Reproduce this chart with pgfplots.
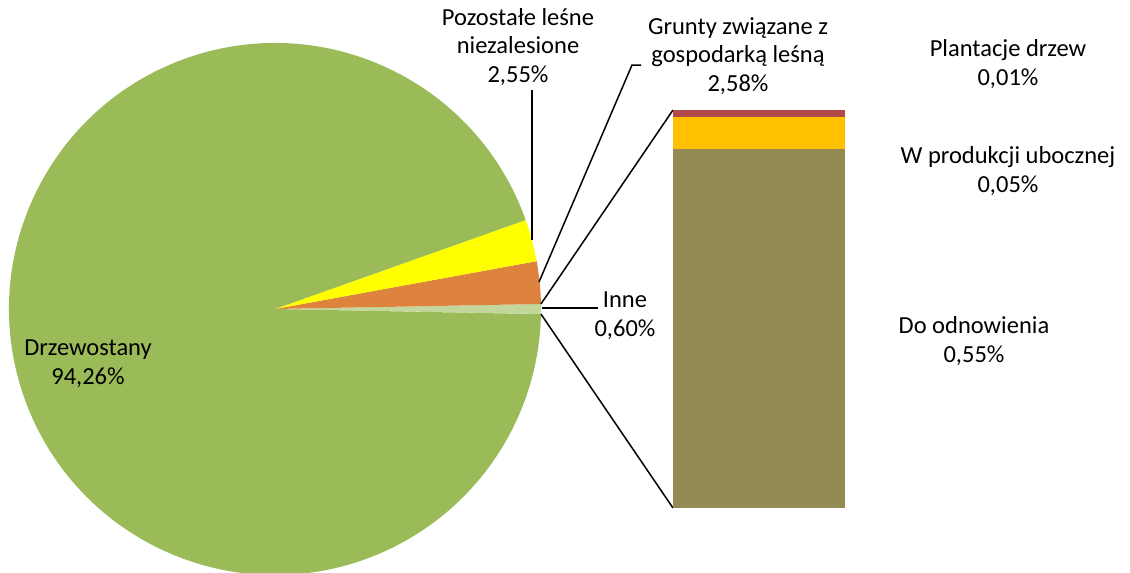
\documentclass[border=0pt]{standalone}
\usepackage{fontspec}
\setmainfont{Carlito}
\usepackage{pgfplots}
\pgfplotsset{compat=1.18}

\definecolor{cDrz}{HTML}{9BBB59}
\definecolor{cPoz}{HTML}{FFFF00}
\definecolor{cGru}{HTML}{DE833E}
\definecolor{cInne}{HTML}{C3D69B}
\definecolor{cOdn}{HTML}{948A54}
\definecolor{cUb}{HTML}{FFC000}
\definecolor{cPl}{HTML}{B04A48}

\tikzset{lbl/.style={font=\fontsize{24.5}{28.7}\selectfont, align=center, text=black, inner sep=0pt}}

% shares of the pie (%)
\def\vDrz{94.26}
\def\vPoz{2.55}
\def\vGru{2.58}
\def\vInne{0.60}

\begin{document}
\begin{tikzpicture}
\useasboundingbox (0,0) rectangle (1130pt,573pt);
% slice angles, "Inne" centred on the right
\pgfmathsetmacro\aA{-\vInne*1.8}
\pgfmathsetmacro\aB{\aA+\vInne*3.6}
\pgfmathsetmacro\aC{\aB+\vGru*3.6}
\pgfmathsetmacro\aD{\aC+\vPoz*3.6}
\pgfmathsetmacro\aE{\aD+\vDrz*3.6}
\def\R{266pt}

\begin{axis}[
    at={(0pt,0pt)}, anchor=south west,
    scale only axis, width=1130pt, height=573pt,
    xmin=0, xmax=1130, ymin=0, ymax=573, y dir=reverse,
    hide axis, clip=false,
]
% pie
\fill[cInne] (axis cs:275,309) -- ++(\aA:\R) arc[start angle=\aA, end angle=\aB, radius=\R] -- cycle;
\fill[cGru]  (axis cs:275,309) -- ++(\aB:\R) arc[start angle=\aB, end angle=\aC, radius=\R] -- cycle;
\fill[cPoz]  (axis cs:275,309) -- ++(\aC:\R) arc[start angle=\aC, end angle=\aD, radius=\R] -- cycle;
\fill[cDrz]  (axis cs:275,309) -- ++(\aD:\R) arc[start angle=\aD, end angle=\aE, radius=\R] -- cycle;

% connectors to the bar
\draw[black, line width=1.5pt] (axis cs:275,309) ++(\aB:\R) -- (axis cs:673,110);
\draw[black, line width=1.5pt] (axis cs:275,309) ++(\aA:\R) -- (axis cs:673,508);

% leader lines
\draw[black, line width=1.5pt] (axis cs:532,90) -- (axis cs:532,240);
\draw[black, line width=1.5pt] (axis cs:641,65) -- (axis cs:632,65) -- (axis cs:539,282);
\draw[black, line width=1.5pt] (axis cs:598,308) -- (axis cs:542,308);

% labels
\node[lbl] at (axis cs:518,47) {Pozostałe leśne\\niezalesione\\2,55\%};
\node[lbl] at (axis cs:738,56) {Grunty związane z\\gospodarką leśną\\2,58\%};
\node[lbl] at (axis cs:625,316) {Inne\\0,60\%};
\node[lbl] at (axis cs:88,364) {Drzewostany\\94,26\%};
\node[lbl] at (axis cs:1008,64) {Plantacje drzew\\0,01\%};
\node[lbl] at (axis cs:1008,171) {W produkcji ubocznej\\0,05\%};
\node[lbl] at (axis cs:974,341) {Do odnowienia\\0,55\%};
\end{axis}

% breakdown of "Inne"
\begin{axis}[
    at={(673pt,65pt)}, anchor=south west,
    scale only axis, width=172pt, height=398pt,
    hide axis,
    ybar stacked, bar width=172pt,
    xmin=-0.5, xmax=0.5, ymin=0, ymax=0.61,
]
\addplot[fill=cOdn, draw=none] coordinates {(0,0.55)};
\addplot[fill=cUb, draw=none] coordinates {(0,0.05)};
\addplot[fill=cPl, draw=none] coordinates {(0,0.01)};
\end{axis}
\end{tikzpicture}
\end{document}
